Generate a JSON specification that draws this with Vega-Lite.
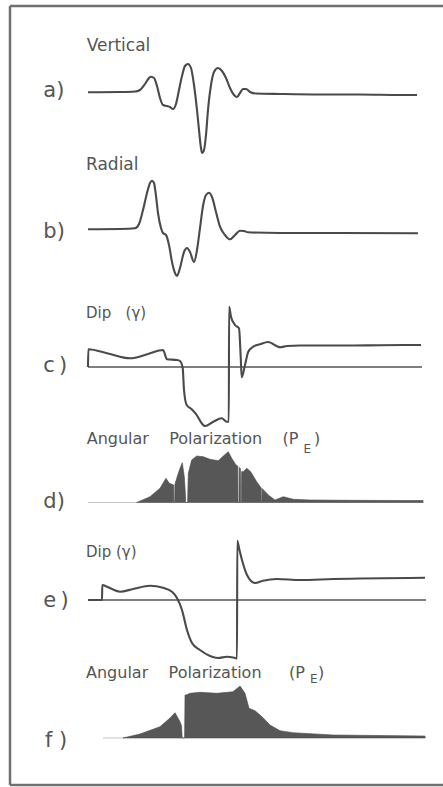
{
  "$schema": "https://vega.github.io/schema/vega-lite/v6.json",
  "autosize": {"type": "none"},
  "width": 433,
  "height": 779,
  "padding": {"left": 10, "top": 6, "right": 0, "bottom": 2},
  "background": "white",
  "config": {
    "view": {"stroke": null},
    "axis": {"disable": true},
    "text": {"font": "DejaVu Sans", "fill": "#555555", "align": "left", "baseline": "alphabetic"}
  },
  "datasets": {
    "vertical": [
      {"t": 0, "v": -0.3}, {"t": 32, "v": 0}, {"t": 47, "v": 0.5}, {"t": 52, "v": 2}, {"t": 57, "v": 8},
      {"t": 61, "v": 14}, {"t": 63, "v": 15.3}, {"t": 66, "v": 14}, {"t": 69, "v": 6}, {"t": 72, "v": -6},
      {"t": 75, "v": -13}, {"t": 79, "v": -14}, {"t": 82, "v": -15}, {"t": 85, "v": -17}, {"t": 88, "v": -12},
      {"t": 91, "v": 2}, {"t": 94, "v": 16}, {"t": 97, "v": 26}, {"t": 100, "v": 28}, {"t": 103, "v": 24},
      {"t": 106, "v": 7}, {"t": 109, "v": -18}, {"t": 111, "v": -38}, {"t": 113, "v": -56}, {"t": 114, "v": -61},
      {"t": 116, "v": -58}, {"t": 118, "v": -43}, {"t": 120, "v": -18}, {"t": 123, "v": 7}, {"t": 126, "v": 20},
      {"t": 130, "v": 24}, {"t": 134, "v": 21}, {"t": 138, "v": 14}, {"t": 142, "v": 4}, {"t": 146, "v": -3},
      {"t": 149, "v": -5}, {"t": 152, "v": -1}, {"t": 155, "v": 3}, {"t": 158, "v": 3}, {"t": 162, "v": 0},
      {"t": 168, "v": -1.5}, {"t": 192, "v": -2}, {"t": 232, "v": -2.5}, {"t": 272, "v": -2.5}, {"t": 312, "v": -3},
      {"t": 329, "v": -3}
    ],
    "radial": [
      {"t": 0, "v": -0.3}, {"t": 32, "v": 0}, {"t": 47, "v": 0.7}, {"t": 51, "v": 5}, {"t": 55, "v": 19},
      {"t": 59, "v": 36}, {"t": 62, "v": 46}, {"t": 64, "v": 48.3}, {"t": 66, "v": 46}, {"t": 68, "v": 33},
      {"t": 70, "v": 16}, {"t": 73, "v": 1}, {"t": 75, "v": -4}, {"t": 78, "v": -6}, {"t": 81, "v": -16},
      {"t": 84, "v": -33}, {"t": 87, "v": -44}, {"t": 89, "v": -47}, {"t": 92, "v": -39}, {"t": 96, "v": -23},
      {"t": 99, "v": -19}, {"t": 102, "v": -23}, {"t": 106, "v": -33}, {"t": 109, "v": -21}, {"t": 112, "v": 1},
      {"t": 115, "v": 23}, {"t": 118, "v": 34}, {"t": 121, "v": 36.3}, {"t": 124, "v": 32}, {"t": 128, "v": 17},
      {"t": 132, "v": 2.3}, {"t": 137, "v": -6}, {"t": 142, "v": -10.3}, {"t": 147, "v": -6}, {"t": 152, "v": -1.7},
      {"t": 156, "v": -2}, {"t": 160, "v": -3.3}, {"t": 192, "v": -4}, {"t": 252, "v": -4}, {"t": 330, "v": -4.3}
    ],
    "dip1": [
      {"t": 0, "v": 0}, {"t": 0.3, "v": 17.7}, {"t": 20, "v": 13.5}, {"t": 42, "v": 8.7}, {"t": 60, "v": 13},
      {"t": 75, "v": 17}, {"t": 79, "v": 7.7}, {"t": 89, "v": 7}, {"t": 92, "v": 6}, {"t": 94.7, "v": -1},
      {"t": 96, "v": -23}, {"t": 98.7, "v": -38}, {"t": 103.7, "v": -42.3}, {"t": 108.7, "v": -48}, {"t": 113.7, "v": -56.3},
      {"t": 117, "v": -59}, {"t": 125.3, "v": -54.7}, {"t": 133.7, "v": -51.3}, {"t": 138.7, "v": -54.7}, {"t": 140.8, "v": -54.7},
      {"t": 141.1, "v": 60.3}, {"t": 143, "v": 50.3}, {"t": 147, "v": 42}, {"t": 151, "v": 38.7}, {"t": 152.7, "v": 10.3},
      {"t": 153.7, "v": -10.3}, {"t": 157, "v": 2}, {"t": 160.3, "v": 15.3}, {"t": 165.3, "v": 20.3}, {"t": 172, "v": 22.7},
      {"t": 180, "v": 25}, {"t": 192, "v": 19.7}, {"t": 199, "v": 21}, {"t": 212, "v": 21.5}, {"t": 262, "v": 21.5},
      {"t": 292, "v": 21.8}, {"t": 333, "v": 22}
    ],
    "pol1": [
      {"t": 48.7, "v": 0}, {"t": 62, "v": 5.8}, {"t": 72, "v": 14.2}, {"t": 78, "v": 24.2}, {"t": 81.3, "v": 19.2},
      {"t": 85.7, "v": 17.5}, {"t": 85.9, "v": 0}, {"t": 86.7, "v": 0}, {"t": 86.9, "v": 18},
      {"t": 88.7, "v": 24.2}, {"t": 92, "v": 34.2}, {"t": 94.3, "v": 39.8}, {"t": 96.3, "v": 25.8},
      {"t": 97.4, "v": 8}, {"t": 97.6, "v": 0}, {"t": 99.6, "v": 0}, {"t": 100.3, "v": 29.2},
      {"t": 103.7, "v": 42.5}, {"t": 108.7, "v": 46.5}, {"t": 115.3, "v": 45.8}, {"t": 122, "v": 43.2}, {"t": 130.3, "v": 41.8},
      {"t": 135.3, "v": 46.5}, {"t": 140.3, "v": 50.8}, {"t": 143.7, "v": 44.2}, {"t": 148, "v": 37.5},
      {"t": 149.8, "v": 36.5}, {"t": 150, "v": 0}, {"t": 151, "v": 0}, {"t": 151.2, "v": 35},
      {"t": 152.4, "v": 34}, {"t": 152.6, "v": 0}, {"t": 153.4, "v": 0}, {"t": 153.6, "v": 31},
      {"t": 155.3, "v": 30.8}, {"t": 158.7, "v": 34.2}, {"t": 162.7, "v": 30.8}, {"t": 168.7, "v": 20.8},
      {"t": 173.2, "v": 14.5}, {"t": 173.4, "v": 0}, {"t": 174, "v": 0}, {"t": 174.2, "v": 14},
      {"t": 180.3, "v": 7.5}, {"t": 187, "v": 2.5}, {"t": 195.3, "v": 5.8}, {"t": 205.3, "v": 3.2},
      {"t": 222, "v": 2.5}, {"t": 262, "v": 2.2}, {"t": 312, "v": 2}, {"t": 335, "v": 2}, {"t": 335.2, "v": 0}
    ],
    "dip2": [
      {"t": 0, "v": 0}, {"t": 14, "v": 0}, {"t": 14.3, "v": 15}, {"t": 19, "v": 13.3}, {"t": 32, "v": 8.3},
      {"t": 45, "v": 11}, {"t": 62, "v": 14.3}, {"t": 75, "v": 12.3}, {"t": 84, "v": 8.3}, {"t": 89, "v": 2},
      {"t": 94, "v": -10}, {"t": 99, "v": -30}, {"t": 104, "v": -43}, {"t": 112, "v": -50}, {"t": 122, "v": -56},
      {"t": 130, "v": -58}, {"t": 139, "v": -56.7}, {"t": 147, "v": -58}, {"t": 149, "v": -58.5}, {"t": 149.3, "v": 59.3},
      {"t": 151, "v": 52}, {"t": 154, "v": 40}, {"t": 159, "v": 25}, {"t": 167, "v": 17}, {"t": 175, "v": 19.3},
      {"t": 189, "v": 21}, {"t": 212, "v": 20}, {"t": 245, "v": 21}, {"t": 337, "v": 22.3}
    ],
    "pol2": [
      {"t": 35, "v": 0}, {"t": 52, "v": 4}, {"t": 72, "v": 11.3}, {"t": 82, "v": 20}, {"t": 87, "v": 25.3},
      {"t": 92, "v": 16.3}, {"t": 93.5, "v": 12}, {"t": 94.2, "v": 0}, {"t": 96.6, "v": 0}, {"t": 97, "v": 43},
      {"t": 98, "v": 43}, {"t": 102, "v": 44.7}, {"t": 112, "v": 45.7}, {"t": 129, "v": 44.7}, {"t": 145, "v": 46.3},
      {"t": 152, "v": 52}, {"t": 157, "v": 44.7}, {"t": 161, "v": 29.7}, {"t": 167, "v": 27.3}, {"t": 174, "v": 21.3},
      {"t": 182, "v": 13}, {"t": 192, "v": 7.3}, {"t": 205, "v": 5.3}, {"t": 245, "v": 3}, {"t": 337, "v": 2},
      {"t": 337.2, "v": 0}
    ]
  },
  "layer": [
    {"data": {"name": "vertical"}, "mark": {"type": "line", "interpolate": "monotone", "color": "#4a4a4a", "strokeWidth": 2.1},
     "encoding": {
       "x": {"field": "t", "type": "quantitative", "scale": {"domain": [-78, 355], "nice": false, "zero": false}, "axis": null},
       "y": {"field": "v", "type": "quantitative", "scale": {"domain": [-693, 86], "nice": false, "zero": false}, "axis": null}}},
    {"data": {"values": [{"label": "top"}]}, "mark": {"type": "rule", "color": "#707070", "strokeWidth": 2.5},
     "encoding": {"x": {"datum": -78, "type": "quantitative", "axis": null}, "x2": {"datum": 355},
       "y": {"datum": 86, "type": "quantitative", "scale": {"domain": [-693, 86], "nice": false, "zero": false}, "axis": null}}},
    {"data": {"values": [{"label": "bottom"}]}, "mark": {"type": "rule", "color": "#707070", "strokeWidth": 2.5},
     "encoding": {"x": {"datum": -78, "type": "quantitative", "axis": null}, "x2": {"datum": 355},
       "y": {"datum": -693, "type": "quantitative", "scale": {"domain": [-693, 86], "nice": false, "zero": false}, "axis": null}}},
    {"data": {"values": [{"label": "left"}]}, "mark": {"type": "rule", "color": "#707070", "strokeWidth": 2.5},
     "encoding": {"x": {"datum": -78, "type": "quantitative", "axis": null},
       "y": {"datum": 86, "type": "quantitative", "scale": {"domain": [-693, 86], "nice": false, "zero": false}, "axis": null}, "y2": {"datum": -693}}},
    {"data": {"values": [{"label": "Vertical"}]}, "mark": {"type": "text", "fontSize": 17},
     "encoding": {"x": {"datum": -1.3, "type": "quantitative", "axis": null},
       "y": {"datum": 41.3, "type": "quantitative", "scale": {"domain": [-693, 86], "nice": false, "zero": false}, "axis": null}, "text": {"field": "label", "type": "nominal"}}},
    {"data": {"values": [{"label": "a)"}]}, "mark": {"type": "text", "fontSize": 21},
     "encoding": {"x": {"datum": -44.7, "type": "quantitative", "axis": null},
       "y": {"datum": -4.7, "type": "quantitative", "scale": {"domain": [-693, 86], "nice": false, "zero": false}, "axis": null}, "text": {"field": "label", "type": "nominal"}}},

    {"data": {"name": "radial"}, "mark": {"type": "line", "interpolate": "monotone", "color": "#4a4a4a", "strokeWidth": 2.1},
     "encoding": {
       "x": {"field": "t", "type": "quantitative", "axis": null},
       "y": {"field": "v", "type": "quantitative", "scale": {"domain": [-556, 223], "nice": false, "zero": false}, "axis": null}}},
    {"data": {"values": [{"label": "Radial"}]}, "mark": {"type": "text", "fontSize": 17},
     "encoding": {"x": {"datum": -2, "type": "quantitative", "axis": null},
       "y": {"datum": 59, "type": "quantitative", "scale": {"domain": [-556, 223], "nice": false, "zero": false}, "axis": null}, "text": {"field": "label", "type": "nominal"}}},
    {"data": {"values": [{"label": "b)"}]}, "mark": {"type": "text", "fontSize": 21},
     "encoding": {"x": {"datum": -44.7, "type": "quantitative", "axis": null},
       "y": {"datum": -9, "type": "quantitative", "scale": {"domain": [-556, 223], "nice": false, "zero": false}, "axis": null}, "text": {"field": "label", "type": "nominal"}}},

    {"data": {"values": [{"label": "zero"}]}, "mark": {"type": "rule", "color": "#555555", "strokeWidth": 1.3},
     "encoding": {"x": {"datum": 0, "type": "quantitative", "axis": null}, "x2": {"datum": 334},
       "y": {"datum": 0, "type": "quantitative", "scale": {"domain": [-418, 361], "nice": false, "zero": false}, "axis": null}}},
    {"data": {"name": "dip1"}, "mark": {"type": "line", "interpolate": "monotone", "color": "#4a4a4a", "strokeWidth": 2.1},
     "encoding": {
       "x": {"field": "t", "type": "quantitative", "axis": null},
       "y": {"field": "v", "type": "quantitative", "scale": {"domain": [-418, 361], "nice": false, "zero": false}, "axis": null}}},
    {"data": {"values": [{"label": "Dip\u00a0\u00a0\u00a0(γ)"}]}, "mark": {"type": "text", "fontSize": 15},
     "encoding": {"x": {"datum": -2, "type": "quantitative", "axis": null},
       "y": {"datum": 48.7, "type": "quantitative", "scale": {"domain": [-418, 361], "nice": false, "zero": false}, "axis": null}, "text": {"field": "label", "type": "nominal"}}},
    {"data": {"values": [{"label": "c\u2009)"}]}, "mark": {"type": "text", "fontSize": 21},
     "encoding": {"x": {"datum": -44.7, "type": "quantitative", "axis": null},
       "y": {"datum": -4.7, "type": "quantitative", "scale": {"domain": [-418, 361], "nice": false, "zero": false}, "axis": null}, "text": {"field": "label", "type": "nominal"}}},

    {"data": {"values": [{"label": "base"}]}, "mark": {"type": "rule", "color": "#c4c4c4", "strokeWidth": 1},
     "encoding": {"x": {"datum": 0, "type": "quantitative", "axis": null}, "x2": {"datum": 50},
       "y": {"datum": 0, "type": "quantitative", "scale": {"domain": [-282.5, 496.5], "nice": false, "zero": false}, "axis": null}}},
    {"data": {"name": "pol1"}, "mark": {"type": "area", "interpolate": "linear", "color": "#575757", "stroke": "#4a4a4a", "strokeWidth": 0.6},
     "encoding": {
       "x": {"field": "t", "type": "quantitative", "axis": null},
       "y": {"field": "v", "type": "quantitative", "scale": {"domain": [-282.5, 496.5], "nice": false, "zero": false}, "axis": null},
       "y2": {"datum": 0}}},
    {"data": {"values": [{"label": "Angular\u00a0\u00a0\u00a0\u00a0Polarization"}]}, "mark": {"type": "text", "fontSize": 16},
     "encoding": {"x": {"datum": -1.3, "type": "quantitative", "axis": null},
       "y": {"datum": 58.2, "type": "quantitative", "scale": {"domain": [-282.5, 496.5], "nice": false, "zero": false}, "axis": null}, "text": {"field": "label", "type": "nominal"}}},
    {"data": {"values": [{"label": "(P"}]}, "mark": {"type": "text", "fontSize": 16},
     "encoding": {"x": {"datum": 194.5, "type": "quantitative", "axis": null},
       "y": {"datum": 58.2, "type": "quantitative", "scale": {"domain": [-282.5, 496.5], "nice": false, "zero": false}, "axis": null}, "text": {"field": "label", "type": "nominal"}}},
    {"data": {"values": [{"label": "E"}]}, "mark": {"type": "text", "fontSize": 12},
     "encoding": {"x": {"datum": 215.5, "type": "quantitative", "axis": null},
       "y": {"datum": 49.5, "type": "quantitative", "scale": {"domain": [-282.5, 496.5], "nice": false, "zero": false}, "axis": null}, "text": {"field": "label", "type": "nominal"}}},
    {"data": {"values": [{"label": ")"}]}, "mark": {"type": "text", "fontSize": 16},
     "encoding": {"x": {"datum": 226, "type": "quantitative", "axis": null},
       "y": {"datum": 58.2, "type": "quantitative", "scale": {"domain": [-282.5, 496.5], "nice": false, "zero": false}, "axis": null}, "text": {"field": "label", "type": "nominal"}}},
    {"data": {"values": [{"label": "d)"}]}, "mark": {"type": "text", "fontSize": 21},
     "encoding": {"x": {"datum": -44.7, "type": "quantitative", "axis": null},
       "y": {"datum": -5.5, "type": "quantitative", "scale": {"domain": [-282.5, 496.5], "nice": false, "zero": false}, "axis": null}, "text": {"field": "label", "type": "nominal"}}},

    {"data": {"values": [{"label": "zero"}]}, "mark": {"type": "rule", "color": "#555555", "strokeWidth": 1.3},
     "encoding": {"x": {"datum": 0, "type": "quantitative", "axis": null}, "x2": {"datum": 338},
       "y": {"datum": 0, "type": "quantitative", "scale": {"domain": [-185, 594], "nice": false, "zero": false}, "axis": null}}},
    {"data": {"name": "dip2"}, "mark": {"type": "line", "interpolate": "monotone", "color": "#4a4a4a", "strokeWidth": 2.1},
     "encoding": {
       "x": {"field": "t", "type": "quantitative", "axis": null},
       "y": {"field": "v", "type": "quantitative", "scale": {"domain": [-185, 594], "nice": false, "zero": false}, "axis": null}}},
    {"data": {"values": [{"label": "Dip (γ)"}]}, "mark": {"type": "text", "fontSize": 15},
     "encoding": {"x": {"datum": -2, "type": "quantitative", "axis": null},
       "y": {"datum": 43.3, "type": "quantitative", "scale": {"domain": [-185, 594], "nice": false, "zero": false}, "axis": null}, "text": {"field": "label", "type": "nominal"}}},
    {"data": {"values": [{"label": "e\u2009)"}]}, "mark": {"type": "text", "fontSize": 21},
     "encoding": {"x": {"datum": -44.7, "type": "quantitative", "axis": null},
       "y": {"datum": -7, "type": "quantitative", "scale": {"domain": [-185, 594], "nice": false, "zero": false}, "axis": null}, "text": {"field": "label", "type": "nominal"}}},

    {"data": {"values": [{"label": "base"}]}, "mark": {"type": "rule", "color": "#c4c4c4", "strokeWidth": 1},
     "encoding": {"x": {"datum": 15, "type": "quantitative", "axis": null}, "x2": {"datum": 36},
       "y": {"datum": 0, "type": "quantitative", "scale": {"domain": [-47, 732], "nice": false, "zero": false}, "axis": null}}},
    {"data": {"name": "pol2"}, "mark": {"type": "area", "interpolate": "linear", "color": "#575757", "stroke": "#4a4a4a", "strokeWidth": 0.6},
     "encoding": {
       "x": {"field": "t", "type": "quantitative", "axis": null},
       "y": {"field": "v", "type": "quantitative", "scale": {"domain": [-47, 732], "nice": false, "zero": false}, "axis": null},
       "y2": {"datum": 0}}},
    {"data": {"values": [{"label": "Angular\u00a0\u00a0\u00a0\u00a0Polarization"}]}, "mark": {"type": "text", "fontSize": 16},
     "encoding": {"x": {"datum": -2, "type": "quantitative", "axis": null},
       "y": {"datum": 59.7, "type": "quantitative", "scale": {"domain": [-47, 732], "nice": false, "zero": false}, "axis": null}, "text": {"field": "label", "type": "nominal"}}},
    {"data": {"values": [{"label": "(P"}]}, "mark": {"type": "text", "fontSize": 16},
     "encoding": {"x": {"datum": 201, "type": "quantitative", "axis": null},
       "y": {"datum": 59.7, "type": "quantitative", "scale": {"domain": [-47, 732], "nice": false, "zero": false}, "axis": null}, "text": {"field": "label", "type": "nominal"}}},
    {"data": {"values": [{"label": "E"}]}, "mark": {"type": "text", "fontSize": 12},
     "encoding": {"x": {"datum": 222, "type": "quantitative", "axis": null},
       "y": {"datum": 55.3, "type": "quantitative", "scale": {"domain": [-47, 732], "nice": false, "zero": false}, "axis": null}, "text": {"field": "label", "type": "nominal"}}},
    {"data": {"values": [{"label": ")"}]}, "mark": {"type": "text", "fontSize": 16},
     "encoding": {"x": {"datum": 230, "type": "quantitative", "axis": null},
       "y": {"datum": 59.7, "type": "quantitative", "scale": {"domain": [-47, 732], "nice": false, "zero": false}, "axis": null}, "text": {"field": "label", "type": "nominal"}}},
    {"data": {"values": [{"label": "f\u00a0)"}]}, "mark": {"type": "text", "fontSize": 21},
     "encoding": {"x": {"datum": -43, "type": "quantitative", "axis": null},
       "y": {"datum": -9, "type": "quantitative", "scale": {"domain": [-47, 732], "nice": false, "zero": false}, "axis": null}, "text": {"field": "label", "type": "nominal"}}}
  ],
  "resolve": {"scale": {"y": "independent"}}
}
